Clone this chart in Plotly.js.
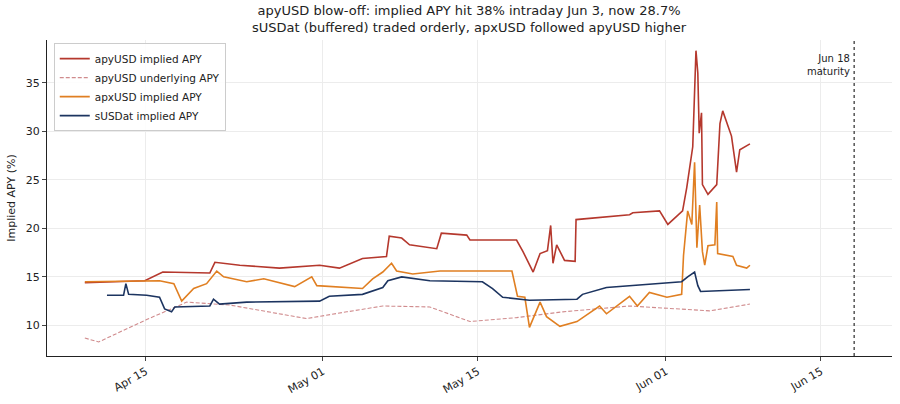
<!DOCTYPE html>
<html>
<head>
<meta charset="utf-8">
<script src="https://cdn.plot.ly/plotly-3.0.1.min.js"></script>
<style>body{margin:0;background:#fff}#chart{width:900px;height:404px}</style>
</head>
<body>
<div id="chart"></div>
<script>
  var apyDates = ['2025-04-09 12:00','2025-04-14 22:00','2025-04-16 13:00','2025-04-20 19:00','2025-04-21 06:00','2025-04-23 12:00','2025-04-27 02:00','2025-04-30 17:00','2025-05-02 12:00','2025-05-04 14:00','2025-05-06 18:00','2025-05-07 00:00','2025-05-08 03:00','2025-05-08 20:00','2025-05-11 07:00','2025-05-11 17:00','2025-05-14 00:00','2025-05-14 07:00','2025-05-18 12:00','2025-05-19 02:00','2025-05-20 00:00','2025-05-20 15:00','2025-05-21 07:00','2025-05-21 14:00','2025-05-21 19:00','2025-05-22 03:00','2025-05-22 20:00','2025-05-23 19:00','2025-05-23 21:00','2025-05-25 17:00','2025-05-26 00:00','2025-05-28 17:00','2025-05-29 00:00','2025-05-31 10:00','2025-06-01 04:00','2025-06-02 12:00','2025-06-02 21:00','2025-06-03 10:00','2025-06-03 17:00','2025-06-03 21:00','2025-06-04 00:00','2025-06-04 05:00','2025-06-04 07:00','2025-06-04 19:00','2025-06-05 14:00','2025-06-05 21:00','2025-06-06 03:00','2025-06-06 14:00','2025-06-06 22:00','2025-06-07 09:00','2025-06-07 16:00','2025-06-08 14:00'];
  var apyVals = [14.4,14.6,15.5,15.4,16.5,16.2,15.9,16.2,15.9,16.9,17.1,19.2,19.0,18.3,17.9,19.5,19.3,18.8,18.8,17.6,15.5,17.4,17.7,20.3,16.4,18.3,16.7,16.6,20.9,21.1,21.1,21.4,21.6,21.8,20.4,21.8,24.2,28.4,38.3,36.0,29.8,31.9,24.5,23.5,24.5,30.8,32.1,30.5,29.5,25.8,28.1,28.7];

  var undDates = ['2025-04-09 12:00','2025-04-10 18:00','2025-04-15 02:00','2025-04-18 17:00','2025-04-22 14:00','2025-04-29 13:00','2025-05-03 04:00','2025-05-06 10:00','2025-05-10 16:00','2025-05-14 07:00','2025-05-18 12:00','2025-05-22 16:00','2025-05-28 17:00','2025-06-02 12:00','2025-06-04 23:00','2025-06-08 14:00'];
  var undVals = [8.7,8.3,10.6,12.4,12.1,10.7,11.4,12.0,11.9,10.4,10.8,11.4,12.0,11.7,11.5,12.2];

  var apxDates = ['2025-04-09 12:00','2025-04-16 06:00','2025-04-17 13:00','2025-04-18 06:00','2025-04-19 08:00','2025-04-20 12:00','2025-04-21 10:00','2025-04-22 01:00','2025-04-24 03:00','2025-04-25 16:00','2025-04-28 11:00','2025-04-30 00:00','2025-04-30 11:00','2025-05-01 14:00','2025-05-04 14:00','2025-05-05 12:00','2025-05-06 10:00','2025-05-07 05:00','2025-05-07 16:00','2025-05-09 03:00','2025-05-11 14:00','2025-05-16 17:00','2025-05-18 02:00','2025-05-18 14:00','2025-05-19 06:00','2025-05-19 16:00','2025-05-20 15:00','2025-05-21 05:00','2025-05-22 10:00','2025-05-23 23:00','2025-05-26 00:00','2025-05-26 15:00','2025-05-28 17:00','2025-05-29 10:00','2025-05-30 12:00','2025-06-01 02:00','2025-06-02 10:00','2025-06-02 14:00','2025-06-02 23:00','2025-06-03 08:00','2025-06-03 14:00','2025-06-03 19:00','2025-06-04 01:00','2025-06-04 07:00','2025-06-04 12:00','2025-06-04 19:00','2025-06-05 10:00','2025-06-05 14:00','2025-06-05 16:00','2025-06-07 01:00','2025-06-07 09:00','2025-06-08 07:00','2025-06-08 14:00'];
  var apxVals = [14.5,14.6,14.3,12.5,13.8,14.3,15.6,15.0,14.5,14.8,14.0,15.0,14.1,14.0,13.8,14.8,15.5,16.4,15.6,15.3,15.6,15.6,15.6,13.0,12.9,9.8,12.4,10.9,9.9,10.4,12.0,11.2,13.0,12.0,13.4,12.9,13.2,17.2,21.8,20.4,26.8,18.0,22.4,17.6,16.2,18.2,18.3,22.7,17.4,17.1,16.2,15.9,16.2];

  var susDates = ['2025-04-11 12:00','2025-04-13 00:00','2025-04-13 05:00','2025-04-13 11:00','2025-04-15 02:00','2025-04-16 06:00','2025-04-16 17:00','2025-04-17 08:00','2025-04-17 15:00','2025-04-20 19:00','2025-04-21 03:00','2025-04-21 16:00','2025-04-24 03:00','2025-04-30 17:00','2025-05-01 14:00','2025-05-04 14:00','2025-05-06 10:00','2025-05-06 21:00','2025-05-08 03:00','2025-05-10 16:00','2025-05-15 10:00','2025-05-16 08:00','2025-05-17 06:00','2025-05-19 16:00','2025-05-23 23:00','2025-05-24 11:00','2025-05-26 15:00','2025-05-28 17:00','2025-06-02 10:00','2025-06-02 23:00','2025-06-03 14:00','2025-06-03 21:00','2025-06-04 03:00','2025-06-08 14:00'];
  var susVals = [13.1,13.1,14.3,13.2,13.1,12.9,11.7,11.4,11.9,12.0,12.7,12.2,12.4,12.5,13.0,13.2,13.9,14.6,15.0,14.6,14.5,13.8,12.9,12.6,12.7,13.2,13.9,14.1,14.5,15.0,15.5,14.1,13.5,13.7];

  var tickVals = ['2025-04-15','2025-05-01','2025-05-15','2025-06-01','2025-06-15'];
  var tickText = ['Apr 15','May 01','May 15','Jun 01','Jun 15'];
  var maturity = '2025-06-18';
  var titleText = 'apyUSD blow-off: implied APY hit 38% intraday Jun 3, now 28.7%<br>sUSDat (buffered) traded orderly, apxUSD followed apyUSD higher';

  var data = [
    {x: apyDates, y: apyVals, name: 'apyUSD implied APY', type: 'scatter', mode: 'lines', line: {color: '#b5382d', width: 1.6}},
    {x: undDates, y: undVals, name: 'apyUSD underlying APY', type: 'scatter', mode: 'lines', line: {color: '#d08b8d', width: 1.1, dash: '4px,2px'}},
    {x: apxDates, y: apxVals, name: 'apxUSD implied APY', type: 'scatter', mode: 'lines', line: {color: '#e07f22', width: 1.6}},
    {x: susDates, y: susVals, name: 'sUSDat implied APY', type: 'scatter', mode: 'lines', line: {color: '#1c3460', width: 1.6}}
  ];

  var layout = {
    width: 900, height: 404,
    margin: {l: 47, r: 8, t: 40, b: 48},
    font: {family: 'DejaVu Sans', size: 11, color: '#222'},
    xaxis: {range: ['2025-04-06 02:00', '2025-06-21 10:00'], tickvals: tickVals, ticktext: tickText, tickangle: -30,
      showgrid: true, gridcolor: '#ececec', showline: true, linecolor: '#222', ticks: 'outside', ticklen: 4, zeroline: false},
    yaxis: {title: {text: 'Implied APY (%)', font: {size: 11}}, range: [6.85, 39.4], tickvals: [10, 15, 20, 25, 30, 35],
      showgrid: true, gridcolor: '#ececec', showline: true, linecolor: '#222', ticks: 'outside', ticklen: 4, zeroline: false},
    legend: {x: 0.008, y: 0.99, bgcolor: 'rgba(255,255,255,0.9)', bordercolor: '#ccc', borderwidth: 1, font: {size: 10.5}},
    shapes: [{type: 'line', xref: 'x', yref: 'paper', x0: maturity, x1: maturity, y0: 0, y1: 1, line: {color: '#555', width: 1.5, dash: 'dot'}}],
    annotations: [
      {x: 0.5, y: 1, xref: 'paper', yref: 'paper', yanchor: 'bottom', yshift: 3, text: titleText, showarrow: false, font: {size: 13}},
      {x: maturity, y: 36.8, xref: 'x', yref: 'y', text: 'Jun 18<br>maturity', showarrow: false, xanchor: 'right', align: 'right', xshift: -2, font: {size: 10}}
    ],
    plot_bgcolor: '#fff', paper_bgcolor: '#fff'
  };

  Plotly.newPlot('chart', data, layout, {displayModeBar: false});
</script>
</body>
</html>
